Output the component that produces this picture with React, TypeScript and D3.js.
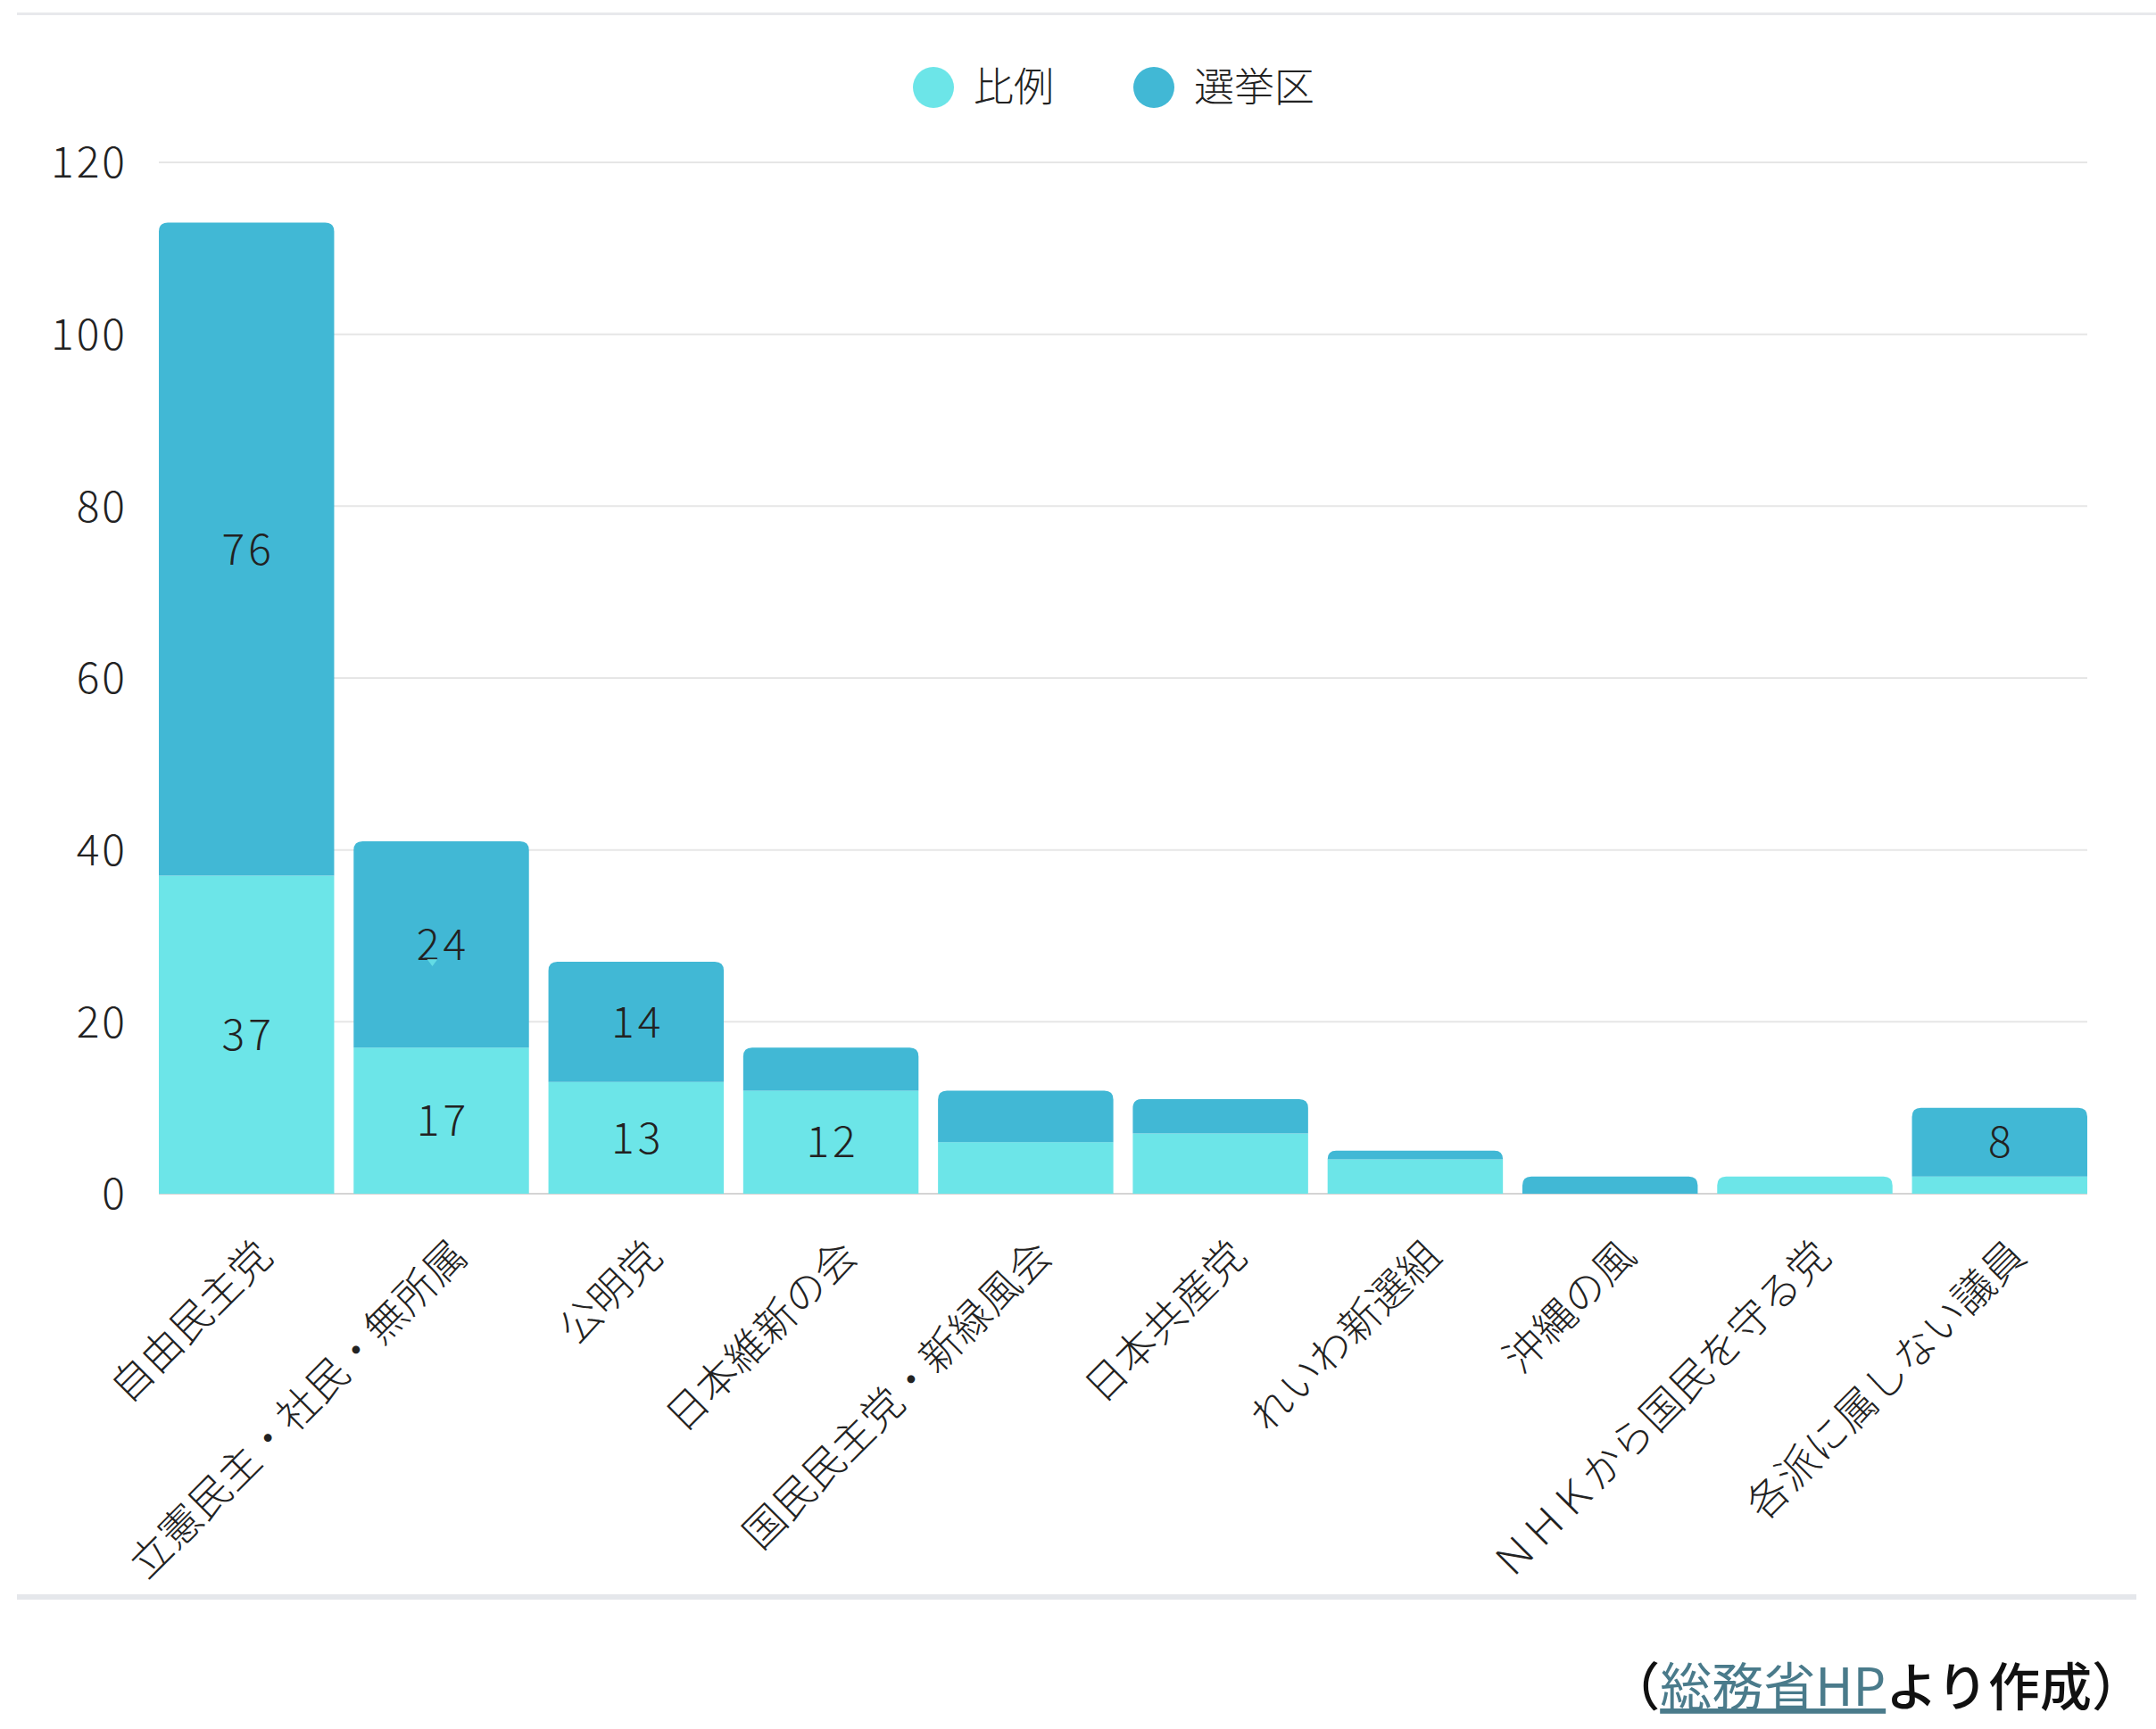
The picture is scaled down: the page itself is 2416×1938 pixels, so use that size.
import * as React from 'react'
import * as d3 from 'd3'

// 参議院 会派別議員数（比例 / 選挙区）
const parties = [
  '自由民主党',
  '立憲民主・社民・無所属',
  '公明党',
  '日本維新の会',
  '国民民主党・新緑風会',
  '日本共産党',
  'れいわ新選組',
  '沖縄の風',
  'ＮＨＫから国民を守る党',
  '各派に属しない議員',
]
const hirei = [37, 17, 13, 12, 6, 7, 4, 0, 2, 2]
const senkyoku = [76, 24, 14, 5, 6, 4, 1, 2, 0, 8]
const yTicks = [0, 20, 40, 60, 80, 100, 120]
const seriesNames = ['比例', '選挙区']
const colors = ['#6ce5e8', '#41b8d5']

const W = 2416
const H = 1938
const FONT = '"Noto Sans CJK JP", "Noto Sans", sans-serif'

// top-rounded rect path
const roundTop = (x: number, y: number, w: number, h: number, r: number) => {
  const rr = Math.min(r, h, w / 2)
  return `M${x},${y + h}V${y + rr}Q${x},${y} ${x + rr},${y}H${x + w - rr}Q${x + w},${y} ${x + w},${y + rr}V${y + h}Z`
}

const App = () => {
  const xScale = d3.scaleBand().domain(parties).range([178, 2339]).paddingInner(0.1).paddingOuter(0)
  const yScale = d3.scaleLinear().domain([0, 120]).range([1338, 182])

  const rows = parties.map((p, i) => ({ party: p, hirei: hirei[i], senkyoku: senkyoku[i] }))
  const stacked = d3.stack<any>().keys(['hirei', 'senkyoku'])(rows)
  const bw = xScale.bandwidth()

  return (
    <div style={{ position: 'absolute', left: 0, top: 0 }}>
      <svg width={W} height={H} style={{ display: 'block', background: '#fff' }} fontFamily={FONT}>
        {/* frame lines */}
        <rect x={19} y={14} width={W - 19} height={3} fill="#e8e9ec" />
        <rect x={19} y={1787} width={2375} height={6} fill="#e5e7eb" />

        {/* legend */}
        {seriesNames.map((s, i) => {
          const cx = [1046, 1293][i]
          return (
            <g key={s}>
              <circle cx={cx} cy={98} r={23} fill={colors[i]} />
              <text x={cx + 45} y={98} dy="0.36em" fontSize={45} fontWeight={300} fill="#222">{s}</text>
            </g>
          )
        })}

        {/* grid */}
        {yTicks.map((t) => (
          <g key={t}>
            <line x1={178} x2={2339} y1={yScale(t)} y2={yScale(t)} stroke={t === 0 ? '#d4d4d4' : '#e6e6e6'} strokeWidth={2} />
            <text x={143} y={yScale(t)} dy="0.36em" textAnchor="end" fontSize={48} fontWeight={300} letterSpacing={3} fill="#222">{t}</text>
          </g>
        ))}

        {/* bars */}
        {stacked.map((layer, li) =>
          layer.map((d, i) => {
            const v = d[1] - d[0]
            if (v <= 0) return null
            const x = xScale(parties[i])!
            const y0 = yScale(d[0])
            const y1 = yScale(d[1])
            const isTop = li === 1 || senkyoku[i] === 0
            return isTop ? (
              <path key={`${li}-${i}`} d={roundTop(x, y1, bw, y0 - y1, 10)} fill={colors[li]} />
            ) : (
              <rect key={`${li}-${i}`} x={x} y={y1} width={bw} height={y0 - y1} fill={colors[li]} />
            )
          })
        )}

        {/* value labels */}
        {stacked.map((layer, li) =>
          layer.map((d, i) => {
            const v = d[1] - d[0]
            if (v < 8) return null
            return (
              <text
                key={`l${li}-${i}`}
                x={xScale(parties[i])! + bw / 2 + 2}
                y={yScale((d[0] + d[1]) / 2)}
                dy="0.36em"
                textAnchor="middle"
                fontSize={48}
                fontWeight={300}
                letterSpacing={4}
                fill="#222"
              >
                {v}
              </text>
            )
          })
        )}

        {/* tooltip caret left under 24 */}
        <path
          d={`M${xScale(parties[1])! + bw / 2 - 16},${1075}l12,0l-6,8z`}
          fill="#6ce5e8"
          opacity={0.8}
        />

        {/* x labels */}
        {parties.map((p) => (
          <text
            key={p}
            transform={`translate(${xScale(p)! + bw / 2 + 32},${1410}) rotate(-45)`}
            textAnchor="end"
            fontSize={46}
            fontWeight={300}
            letterSpacing={0.5}
            fill="#222"
          >
            {p}
          </text>
        ))}

        {/* source */}
        <text x={2402} y={1912} textAnchor="end" fontSize={58} fontWeight={500} fill="#111">
          （<tspan fill="#4a7b8b" fontWeight={400} textDecoration="underline">総務省HP</tspan>より作成）
        </text>
      </svg>
    </div>
  )
}

export default App
